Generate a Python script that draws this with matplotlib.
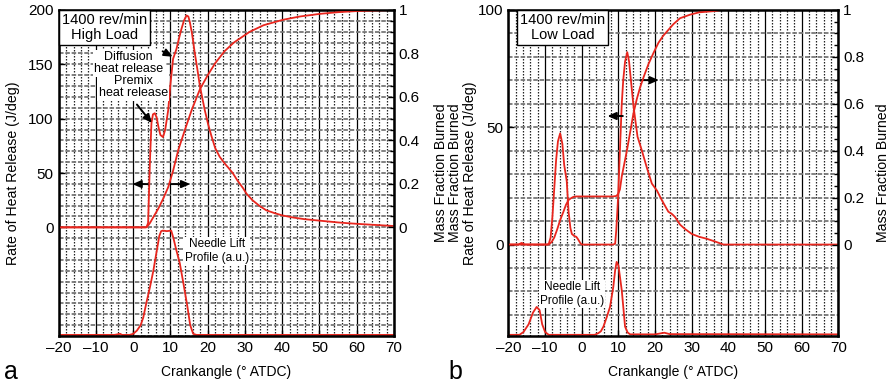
import numpy as np
import matplotlib
matplotlib.use("Agg")
import matplotlib.pyplot as plt
from matplotlib.ticker import MultipleLocator, FixedLocator, FuncFormatter

plt.rcParams["font.family"] = ["Liberation Sans", "DejaVu Sans"]

# ---- panel a: 1400 rev/min, high load ----
ca_a_hrr = [-20, 2.5, 3.3, 3.6, 4.0, 4.5, 4.9, 5.3, 5.8, 6.3, 6.8, 7.3, 8.0, 8.6, 9.4, 10.0,
            10.7, 11.6, 12.3, 12.9, 13.6, 14.3, 14.8, 15.2, 15.8, 16.5, 17.2, 17.9, 19.2,
            20.1, 21.0, 22.0, 23.2, 24.5, 25.5, 26.7, 28.0, 29.5, 30.4, 32.0, 33.8, 35.7,
            38.0, 40.0, 43.0, 46.0, 49.0, 52.0, 55.0, 58.0, 62.0, 66.0, 70.0]
hrr_a = [0, 0, 0, 0.5, 4, 62, 96, 104, 105, 101, 92, 85, 83, 90, 108, 132,
         155, 164, 174, 182, 190, 195, 194, 189, 178, 161, 146, 130, 108,
         95, 84, 73, 65, 59, 55, 50, 43, 36, 31, 25, 20, 15.7,
         13, 11, 9, 7.5, 6.5, 5.5, 4.5, 3.7, 2.8, 2.0, 1.2]

ca_a_mfb = [-20, 3.0, 3.6, 4.5, 5.5, 6.7, 8.0, 9.4, 10.7, 12.1, 14.3, 15.7, 17.9, 20.0,
            22.0, 24.5, 27.0, 31.3, 35.0, 40.2, 44.7, 50.0, 55.0, 60.0, 65.0, 70.0]
mfb_a = [0, 0, 0, 0.02, 0.05, 0.085, 0.13, 0.185, 0.26, 0.356, 0.47, 0.54, 0.635, 0.70,
         0.755, 0.81, 0.85, 0.90, 0.93, 0.955, 0.97, 0.982, 0.99, 0.995, 0.998, 1.0]

ca_a_nl = [-20, -5, -3.5, -3, -2.5, -1, 0, 1.0, 2.0, 2.7, 3.5, 4.5, 5.4, 6.3, 7.0,
           7.5, 8.0, 9.0, 10.2, 10.8, 11.5, 12.5, 13.5, 14.5, 15.3, 16.1, 17, 70]
nl_a = [-99, -99, -98, -99, -99, -99, -98, -95, -90, -83, -70, -55, -40, -22, -8,
        -3.5, -3, -3.5, -3, -10, -20, -33, -52, -72, -90, -98, -99, -99]

# ---- panel b: 1400 rev/min, low load ----
ca_b_hrr = [-20, -17.3, -16.4, -15.5, -9.5, -9.0, -8.5, -8.0, -7.5, -7.0, -6.5, -5.9, -5.3,
            -4.8, -4.1, -3.6, -3.1, -2.7, -2.0, -1.5, -1.0, -0.4, 0, 8.6, 9.1, 9.4,
            9.9, 10.4, 10.9, 11.3, 11.8, 12.4, 12.9, 13.4, 14.1, 15.2, 16.4, 17.7, 19.1,
            20.5, 21.8, 23.6, 24.6, 25.4, 26.8, 28.0, 30.0, 32.0, 34.0, 36.5, 38.6, 70]
hrr_b = [0, 0, 0.7, 0, 0, 0.3, 3, 12, 24, 36, 44, 47.4, 43,
         34, 27, 14, 7, 4.5, 3.6, 3.3, 2.2, 0.6, 0, 0, 0.4, 6,
         20, 40, 60, 70, 78, 82, 78, 70, 59, 46, 40, 33, 26,
         23, 19, 14, 13, 11.8, 8.5, 6.8, 4.5, 3.3, 2.5, 1.2, 0, 0]

ca_b_mfb = [-20, -9.0, -8.2, -7.5, -6.7, -5.9, -5.0, -4.3, -3.6, -2.9, -2.3, -1.5, 0, 4,
            8.5, 9.4, 9.9, 10.4, 10.9, 11.6, 12.3, 13.2, 14.1, 15.0, 15.9, 17.0, 18.2,
            19.5, 20.9, 22.2, 23.6, 25.0, 26.8, 29.5, 32.0, 35.9, 38.0, 70]
mfb_b = [0, 0, 0.011, 0.03, 0.065, 0.104, 0.14, 0.17, 0.19, 0.198, 0.203, 0.205, 0.205, 0.205,
         0.205, 0.207, 0.215, 0.235, 0.29, 0.345, 0.40, 0.48, 0.56, 0.62, 0.67, 0.72, 0.77,
         0.815, 0.86, 0.89, 0.915, 0.94, 0.965, 0.98, 0.99, 0.995, 1.0, 1.0]

ca_b_nl = [-20, -17, -15.9, -14.5, -13.3, -12.3, -11.5, -10.8, -10.0, -9, 3.5, 4.5, 5.2,
           5.9, 6.8, 7.7, 8.6, 9.1, 9.5, 10.0, 10.9, 11.4, 11.8, 12.5, 13.2, 20, 22.5, 24, 70]
nl_b = [-38.5, -38.5, -37.3, -34, -29, -26.6, -28, -34, -37.3, -38.5, -38.5, -37.8, -37,
        -35, -31, -26.6, -18, -11, -7.4, -9, -19.5, -28, -35, -37.5, -38.3, -38.3, -37.6, -38.2, -38.3]

xticks = [-20, -10, 0, 10, 20, 30, 40, 50, 60, 70]
mfb_ticks = [0, 0.2, 0.4, 0.6, 0.8, 1.0]

red = "#e8261e"
fs_tick = 11
fs_label = 10.2


def style_axes(ax, ylim, hrr_ticks):
    ax.set_xlim(-20, 70)
    ax.set_ylim(*ylim)
    ax.xaxis.set_major_locator(FixedLocator(xticks))
    ax.xaxis.set_minor_locator(MultipleLocator(2))
    ax.yaxis.set_major_locator(FixedLocator(hrr_ticks))
    ax.yaxis.set_minor_locator(MultipleLocator(10))
    ax.xaxis.set_major_formatter(FuncFormatter(lambda v, p: f"{v:g}".replace("-", "\u2013")))
    ax.grid(which="minor", axis="x", color="#222222", linestyle=(0, (1.2, 1.2)), lw=0.9)
    ax.grid(which="major", axis="x", color="black", linestyle="-", lw=0.9)
    ax.grid(which="both", axis="y", color="#777777", linestyle=(0, (2.5, 1)), lw=1.3)
    ax.set_axisbelow(True)
    ax.tick_params(which="both", direction="in", labelsize=fs_tick, length=4, width=1)
    ax.tick_params(which="minor", length=0)
    for s in ax.spines.values():
        s.set_linewidth(1.8)
    ax.set_xlabel("Crankangle (\u00b0 ATDC)", fontsize=10, labelpad=7)


def style_twin(ax2, ylim, pad):
    ax2.set_ylim(*ylim)
    ax2.yaxis.set_major_locator(FixedLocator(mfb_ticks))
    ax2.yaxis.set_minor_locator(FixedLocator(np.arange(0, 1.01, 0.05)))
    ax2.yaxis.set_major_formatter(FuncFormatter(lambda v, p: f"{v:g}"))
    ax2.tick_params(which="both", direction="in", labelsize=fs_tick, length=4, width=1)
    ax2.tick_params(which="minor", length=3)
    ax2.set_ylabel("Mass Fraction Burned", fontsize=fs_label, labelpad=pad)


def arrow(ax, start, end):
    ax.annotate("", xy=end, xytext=start,
                arrowprops=dict(arrowstyle="-|>,head_length=0.5,head_width=0.22",
                                color="black", lw=1.4, shrinkA=0, shrinkB=0))


fig = plt.figure(figsize=(8.92, 3.83), dpi=100)
ax_a = fig.add_axes([0.0658, 0.1227, 0.3759, 0.8512])
ax_b = fig.add_axes([0.570, 0.1227, 0.370, 0.8512])

# panel a
style_axes(ax_a, (-100, 200), [0, 50, 100, 150, 200])
ax_a.plot(ca_a_hrr, hrr_a, color=red, lw=1.3)
ax_a.plot(ca_a_nl, nl_a, color=red, lw=1.3)
ax_a.set_ylabel("Rate of Heat Release (J/deg)", fontsize=fs_label, labelpad=6)
ax_a2 = ax_a.twinx()
style_twin(ax_a2, (-0.5, 1.0), 10)
ax_a2.plot(ca_a_mfb, mfb_a, color=red, lw=1.3)

ax_a.text(0.138, 0.945, "1400 rev/min\nHigh Load", transform=ax_a.transAxes, ha="center",
          va="center", fontsize=10.5, linespacing=1.1,
          bbox=dict(boxstyle="square,pad=0.2", fc="white", ec="black", lw=1))
ax_a.text(-1.2, 151, "Diffusion\nheat release", ha="center", va="center", fontsize=9,
          linespacing=1.05, bbox=dict(boxstyle="square,pad=0.1", fc="white", ec="none"))
ax_a.text(0.0, 129, "Premix\nheat release", ha="center", va="center", fontsize=9,
          linespacing=1.05, bbox=dict(boxstyle="square,pad=0.1", fc="white", ec="none"))
arrow(ax_a, (7.9, 162), (10.6, 157))
arrow(ax_a, (1.0, 113), (5.0, 96))
arrow(ax_a, (3.9, 39.8), (-0.2, 39.8))
arrow(ax_a, (9.8, 39.8), (15.3, 39.8))
ax_a.text(22.4, -22, "Needle Lift\nProfile (a.u.)", ha="center", va="center", fontsize=8.5,
          linespacing=1.2, bbox=dict(boxstyle="square,pad=0.1", fc="white", ec="none"))

# panel b
style_axes(ax_b, (-39, 100), [0, 50, 100])
ax_b.plot(ca_b_hrr, hrr_b, color=red, lw=1.3)
ax_b.plot(ca_b_nl, nl_b, color=red, lw=1.3)
ax_b.set_ylabel("Mass Fraction Burned\nRate of Heat Release (J/deg)", fontsize=fs_label,
                labelpad=1, linespacing=1.05)
ax_b2 = ax_b.twinx()
style_twin(ax_b2, (-0.39, 1.0), 8)
ax_b2.plot(ca_b_mfb, mfb_b, color=red, lw=1.3)

ax_b.text(0.165, 0.945, "1400 rev/min\nLow Load", transform=ax_b.transAxes, ha="center",
          va="center", fontsize=10.5, linespacing=1.1,
          bbox=dict(boxstyle="square,pad=0.2", fc="white", ec="black", lw=1))
arrow(ax_b, (11.2, 54.8), (7.0, 54.8))
arrow(ax_b, (15.9, 70.1), (21.0, 70.1))
ax_b.text(-2.7, -21.2, "Needle Lift\nProfile (a.u.)", ha="center", va="center", fontsize=8.5,
          linespacing=1.2, bbox=dict(boxstyle="square,pad=0.1", fc="white", ec="none"))

fig.text(0.004, 0.03, "a", fontsize=18, ha="left", va="center")
fig.text(0.503, 0.03, "b", fontsize=18, ha="left", va="center")

fig.savefig("out.png", dpi=100)
